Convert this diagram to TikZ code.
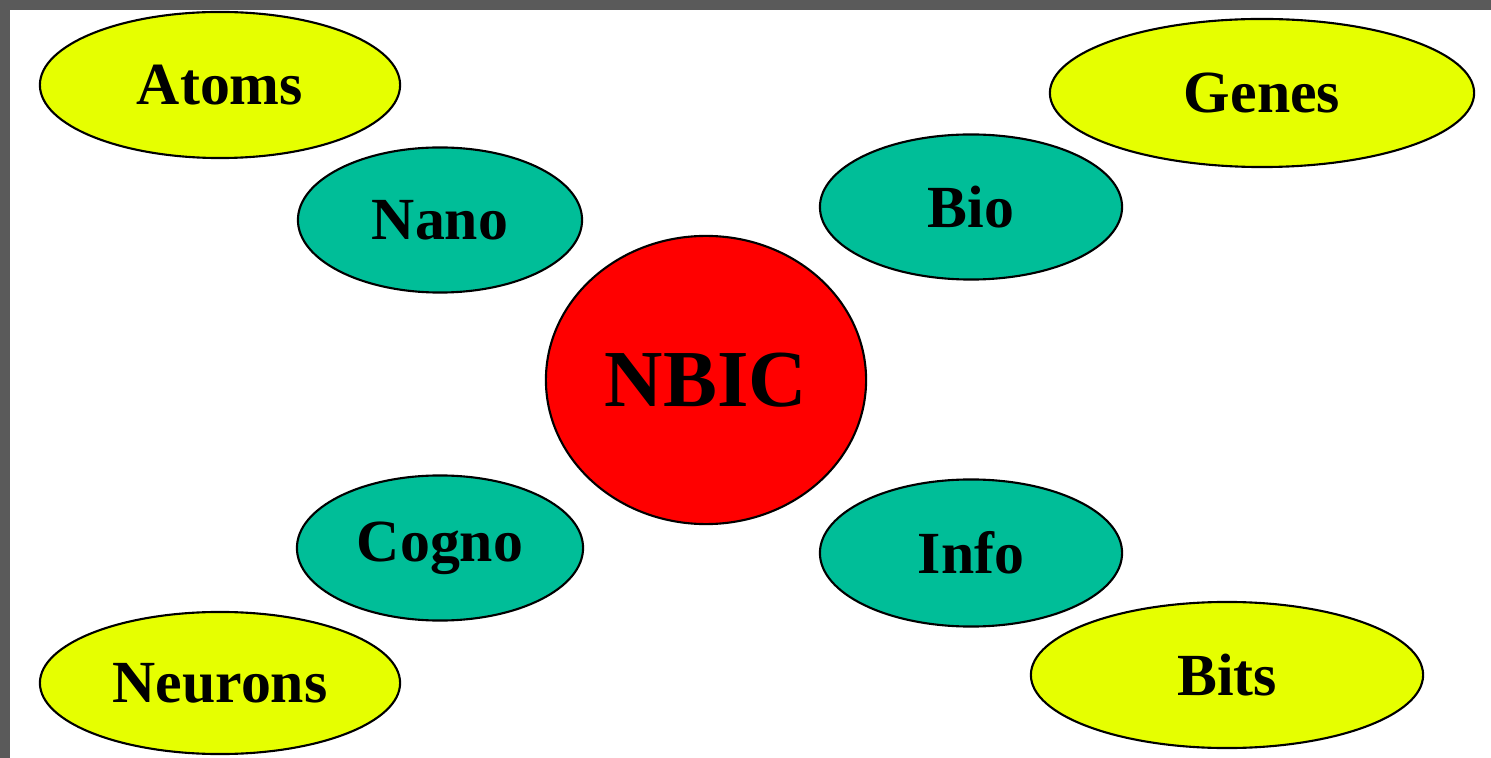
\documentclass[tikz,border=0pt]{standalone}
\usepackage{fontspec}
\setmainfont{Liberation Serif}
\usetikzlibrary{shapes.geometric}
\definecolor{lime}{RGB}{230,255,0}
\definecolor{teal}{RGB}{0,190,152}
\definecolor{frame}{RGB}{90,90,90}
\begin{document}
\begin{tikzpicture}[x=0.01cm, y=-0.01cm,
  every node/.style={font=\fontsize{17}{20}\selectfont\bfseries},
  outer/.style={ellipse, draw, line width=0.6pt, fill=lime, inner sep=0pt},
  inner/.style={ellipse, draw, line width=0.6pt, fill=teal, inner sep=0pt},
  hub/.style={ellipse, draw, line width=0.6pt, fill=red, inner sep=0pt,
    font=\fontsize{23}{26}\selectfont\bfseries}]
  \useasboundingbox (0,0) rectangle (1491,758);
  \fill[frame] (0,0) rectangle (1491,758);
  \fill[white] (10,10) rectangle (1491,758);

  % centre
  \node[hub, minimum width=3.2cm, minimum height=2.88cm] (nbic) at (706,380) {NBIC};

  % the four fields
  \node[inner, minimum width=2.84cm, minimum height=1.45cm] (nano)  at (440,220) {Nano};
  \node[inner, minimum width=3.02cm, minimum height=1.45cm] (bio)   at (971,207) {Bio};
  \node[inner, minimum width=2.86cm, minimum height=1.45cm] (cogno) at (440,548) {Cogno};
  \node[inner, minimum width=3.02cm, minimum height=1.47cm] (info)  at (971,553) {Info};

  % their units
  \node[outer, minimum width=3.6cm, minimum height=1.46cm]  (atoms)   at (220,85)  {Atoms};
  \node[outer, minimum width=4.24cm, minimum height=1.48cm] (genes)   at (1262,93) {Genes};
  \node[outer, minimum width=3.6cm, minimum height=1.42cm]  (neurons) at (220,683) {Neurons};
  \node[outer, minimum width=3.92cm, minimum height=1.46cm] (bits)    at (1227,675) {Bits};
\end{tikzpicture}
\end{document}
